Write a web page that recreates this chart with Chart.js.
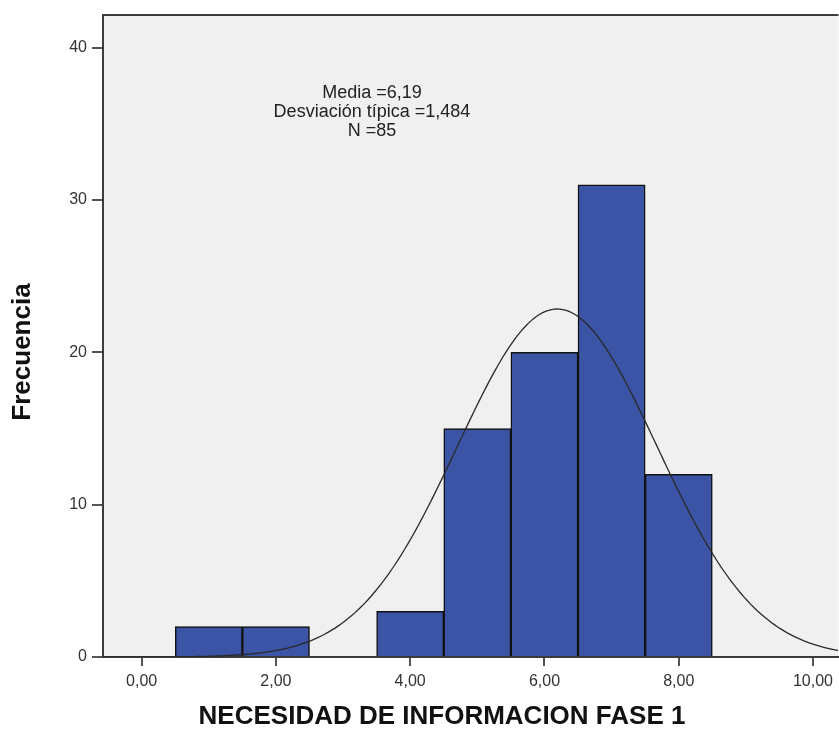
<!DOCTYPE html>
<html>
<head>
<meta charset="utf-8">
<script src="https://cdn.jsdelivr.net/npm/chart.js@4/dist/chart.umd.min.js"></script>
<style>
  html, body { margin: 0; padding: 0; background: #fff; }
  #wrap { width: 839px; height: 731px; position: relative; }
</style>
</head>
<body>
<div id="wrap"><canvas id="hist"></canvas></div>
<script>
// Histogram bins (class midpoints) and their counts
const binCenters = [1, 2, 3, 4, 5, 6, 7, 8];
const frequencies = [2, 2, 0, 3, 15, 20, 31, 12];
const xTickValues = [0, 2, 4, 6, 8, 10];
const yTickValues = [0, 10, 20, 30, 40];

// Summary statistics shown on the chart
const mean = 6.19;
const stdDev = 1.484;
const nCases = 85;
const binWidth = 1;

const xTitle = 'NECESIDAD DE INFORMACION FASE 1';
const yTitle = 'Frecuencia';

const xMin = -0.576, xMax = 10.38;
const yMax = 42.15;

// Normal curve scaled to counts: N * width * pdf(x)
const curvePoints = [];
for (let x = xMin; x <= xMax + 1e-9; x += 0.05) {
  const z = (x - mean) / stdDev;
  const y = nCases * binWidth * Math.exp(-0.5 * z * z) / (stdDev * Math.sqrt(2 * Math.PI));
  curvePoints.push({ x: x, y: y });
}

const FONT = '"Liberation Sans", Arial, sans-serif';
const fmt = v => v.toFixed(2).replace('.', ',');

const frame = {
  id: 'frame',
  beforeDraw(chart) {
    const { ctx, chartArea: a } = chart;
    ctx.save();
    ctx.fillStyle = '#f0f0f0';
    ctx.fillRect(a.left, a.top, a.right - a.left, a.bottom - a.top);
    ctx.restore();
  },
  afterDraw(chart) {
    const { ctx, chartArea: a, scales } = chart;
    ctx.save();
    // top edge of the plot frame
    ctx.strokeStyle = '#3c3c3c';
    ctx.lineWidth = 2;
    ctx.beginPath();
    ctx.moveTo(a.left - 1, a.top);
    ctx.lineTo(a.right, a.top);
    ctx.stroke();

    // statistics box
    const cx = scales.x.getPixelForValue(3.43);
    const cy = scales.y.getPixelForValue(37.05);
    ctx.fillStyle = '#222';
    ctx.font = '18px ' + FONT;
    ctx.textAlign = 'center';
    ctx.textBaseline = 'middle';
    const lines = [
      'Media =' + mean.toFixed(2).replace('.', ','),
      'Desviación típica =' + stdDev.toFixed(3).replace('.', ','),
      'N =' + nCases
    ];
    lines.forEach((t, i) => ctx.fillText(t, cx, cy + i * 19));

    // axis titles
    ctx.fillStyle = '#111';
    ctx.font = 'bold 26px ' + FONT;
    ctx.fillText(xTitle, 442, 717);
    ctx.translate(23, 352);
    ctx.rotate(-Math.PI / 2);
    ctx.fillText(yTitle, 0, 0);
    ctx.restore();
  }
};

new Chart(document.getElementById('hist'), {
  data: {
    datasets: [
      {
        type: 'bar',
        data: binCenters.map((c, i) => ({ x: c, y: frequencies[i] })),
        backgroundColor: '#3b54a5',
        borderColor: '#111',
        borderWidth: 1.5,
        borderSkipped: 'bottom',
        barPercentage: 1,
        categoryPercentage: 1,
        order: 2
      },
      {
        type: 'line',
        data: curvePoints,
        borderColor: '#2a2a2a',
        borderWidth: 1.3,
        pointRadius: 0,
        fill: false,
        tension: 0,
        order: 1
      }
    ]
  },
  options: {
    responsive: true,
    maintainAspectRatio: false,
    animation: false,
    layout: { padding: { top: 15, right: 0, left: 0, bottom: 0 } },
    plugins: { legend: { display: false }, tooltip: { enabled: false } },
    scales: {
      x: {
        type: 'linear',
        offset: false,
        min: xMin,
        max: xMax,
        afterBuildTicks: s => { s.ticks = xTickValues.map(v => ({ value: v })); },
        ticks: {
          includeBounds: false,
          color: '#333',
          font: { family: FONT, size: 16 },
          padding: 6,
          maxRotation: 0,
          autoSkip: false,
          callback: v => fmt(v)
        },
        grid: { offset: false, drawOnChartArea: false, drawTicks: true, tickLength: 9, color: '#555', lineWidth: 2 },
        border: { display: true, color: '#3c3c3c', width: 2 },
        title: { display: false },
        afterFit: s => { s.height = 74; }
      },
      y: {
        type: 'linear',
        min: 0,
        max: yMax,
        afterBuildTicks: s => { s.ticks = yTickValues.map(v => ({ value: v })); },
        ticks: {
          includeBounds: false,
          color: '#333',
          font: { family: FONT, size: 16 },
          padding: 5
        },
        grid: { drawOnChartArea: false, drawTicks: true, tickLength: 11, color: '#555', lineWidth: 2 },
        border: { display: true, color: '#3c3c3c', width: 2 },
        title: { display: false },
        afterFit: s => { s.width = 103; }
      }
    }
  },
  plugins: [frame]
});
</script>
</body>
</html>
